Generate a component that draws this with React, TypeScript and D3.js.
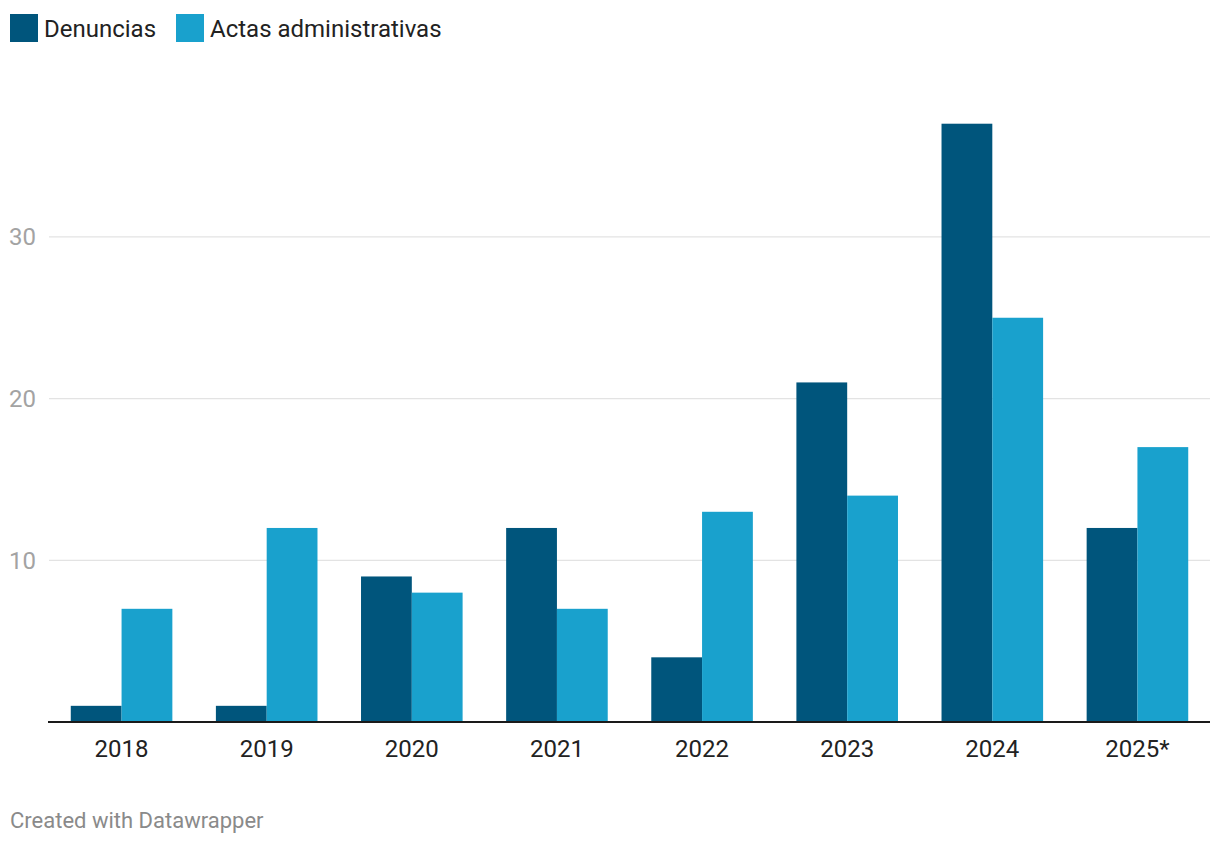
import { useMemo } from 'react';
import * as d3 from 'd3';

const YEARS = ['2018', '2019', '2020', '2021', '2022', '2023', '2024', '2025*'];
const DENUNCIAS = [1, 1, 9, 12, 4, 21, 37, 12];
const ACTAS = [7, 12, 8, 7, 13, 14, 25, 17];
const SERIES = [
    { key: 'Denuncias', values: DENUNCIAS, color: '#00557c' },
    { key: 'Actas administrativas', values: ACTAS, color: '#19a1cd' },
];
const Y_TICKS = [10, 20, 30];

const WIDTH = 1220;
const HEIGHT = 844;
const margin = { top: 60, right: 10, bottom: 122, left: 49 };
const FONT = 'Roboto, "Noto Sans", sans-serif';

export default function App() {
    const x = useMemo(
        () =>
            d3
                .scaleBand<string>()
                .domain(YEARS)
                .range([margin.left, WIDTH - margin.right])
                .paddingInner(0.3)
                .paddingOuter(0.15),
        []
    );
    const xInner = useMemo(
        () =>
            d3
                .scaleBand<string>()
                .domain(SERIES.map((s) => s.key))
                .range([0, x.bandwidth()]),
        [x]
    );
    // 0 sits at the baseline, 10 units ≈ 161.7px
    const y = useMemo(
        () => d3.scaleLinear().domain([0, 10]).range([722, 560.3]),
        []
    );

    return (
        <div style={{ position: 'absolute', top: 0, left: 0 }}>
            <svg width={WIDTH} height={HEIGHT} viewBox={`0 0 ${WIDTH} ${HEIGHT}`} style={{ display: 'block', fontFamily: FONT }}>
                <rect width={WIDTH} height={HEIGHT} fill="#fff" />
                {/* legend */}
                <g>
                    <rect x={10} y={14} width={28} height={28} fill={SERIES[0].color} />
                    <text x={44} y={36.5} fontSize={24} fill="#222">
                        {SERIES[0].key}
                    </text>
                    <rect x={176} y={14} width={28} height={28} fill={SERIES[1].color} />
                    <text x={210} y={36.5} fontSize={24} fill="#222">
                        {SERIES[1].key}
                    </text>
                </g>
                {/* grid */}
                {Y_TICKS.map((t) => (
                    <g key={t}>
                        <line x1={margin.left} x2={WIDTH - margin.right} y1={y(t)} y2={y(t)} stroke="#e3e3e3" strokeWidth={1.2} />
                        <text x={9} y={y(t)} dy="0.35em" fontSize={24} fill="#a3a3a3">
                            {t}
                        </text>
                    </g>
                ))}
                {/* bars */}
                {YEARS.map((yr, i) => (
                    <g key={yr} transform={`translate(${x(yr)},0)`}>
                        {SERIES.map((s) => (
                            <rect
                                key={s.key}
                                x={xInner(s.key)}
                                y={y(s.values[i])}
                                width={xInner.bandwidth()}
                                height={y(0) - y(s.values[i])}
                                fill={s.color}
                            />
                        ))}
                        <text x={x.bandwidth() / 2} y={756.5} textAnchor="middle" fontSize={24} fill="#222">
                            {yr}
                        </text>
                    </g>
                ))}
                <line x1={margin.left - 1} x2={WIDTH - margin.right} y1={y(0)} y2={y(0)} stroke="#1a1a1a" strokeWidth={2} />
                <text x={10} y={828} fontSize={22} fill="#8a8a8a">
                    Created with Datawrapper
                </text>
            </svg>
        </div>
    );
}
